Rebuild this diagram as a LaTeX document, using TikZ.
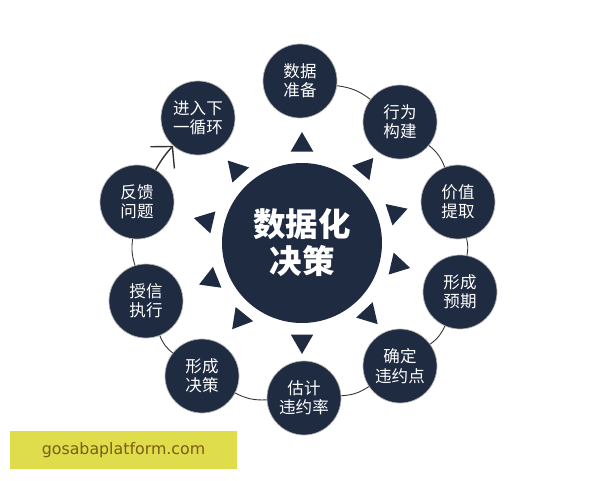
\documentclass[tikz,border=0pt]{standalone}
\usepackage{fontspec}
\newfontfamily\cjk{Noto Sans CJK SC}
\setsansfont{DejaVu Sans}
\usetikzlibrary{shapes.geometric,arrows.meta}
\definecolor{navy}{RGB}{31,43,65}
\definecolor{wmyellow}{RGB}{224,221,76}
\definecolor{wmtext}{RGB}{122,92,20}
\tikzset{
 stage/.style={circle,fill=navy,draw=gray!60,line width=0.4pt,minimum size=1.48cm,inner sep=0pt,
  text=white,align=center,font=\cjk\fontsize{9.4}{11}\selectfont},
 hub/.style={circle,fill=navy,minimum size=3.2cm,inner sep=0pt,
  text=white,align=center,font=\cjk\bfseries\fontsize{18.5}{21}\selectfont},
 pointer/.style={regular polygon,regular polygon sides=3,fill=navy,minimum size=0.52cm,inner sep=0pt},
 ring/.style={gray!40!black,line width=0.5pt}
}
\newcommand{\stagenode}[3]{%
 \node[stage] ({#1}) at ({#2}) {#3};%
}

\begin{document}
\begin{tikzpicture}
   \useasboundingbox (0,0) rectangle (12,9.6);
   % hub and the ten steps round it
   \node[hub] (hub) at (6.04,4.74) {数据化\\决策};
   \stagenode{prep}{6.00,7.98}{数据\\准备}
   \stagenode{build}{8.00,7.16}{行为\\构建}
   \stagenode{value}{9.16,5.56}{价值\\提取}
   \stagenode{expect}{9.20,3.76}{形成\\预期}
   \stagenode{point}{8.00,2.28}{确定\\违约点}
   \stagenode{rate}{6.08,1.64}{估计\\违约率}
   \stagenode{decide}{4.04,2.08}{形成\\决策}
   \stagenode{credit}{2.92,3.58}{授信\\执行}
   \stagenode{feedback}{2.74,5.56}{反馈\\问题}
   \stagenode{loop}{3.96,7.24}{进入下\\一循环}
   % pointers
   \foreach \a [count=\i] in {90,50,18,-13,-47,-90,-129,-158,167,132}
     \node[pointer,rotate=\a-90] (p\i) at ([shift={(\a:1.96)}]hub.center) {};
   % ring
   \draw[ring] (prep) to[bend left=15] (build);
   \draw[ring] (build) to[bend left=15] (value);
   \draw[ring] (value) to[bend left=12] (expect);
   \draw[ring] (expect) to[bend left=15] (point);
   \draw[ring] (point) to[bend left=15] (rate);
   \draw[ring] (rate) to[bend left=15] (decide);
   \draw[ring] (decide) to[bend left=15] (credit);
   \draw[ring] (credit) to[bend left=12] (feedback);
   \draw[ring,line width=0.8pt,-{Straight Barb[length=3mm,width=6.5mm]}] (feedback) to[bend left=6] (loop);
   % watermark
   \node[fill=wmyellow,minimum width=4.54cm,minimum height=0.76cm,inner sep=0pt,
     text=wmtext,font=\sffamily\fontsize{9}{10}\selectfont] (wm) at (2.47,0.60) {gosabaplatform.com};
\end{tikzpicture}
\end{document}
